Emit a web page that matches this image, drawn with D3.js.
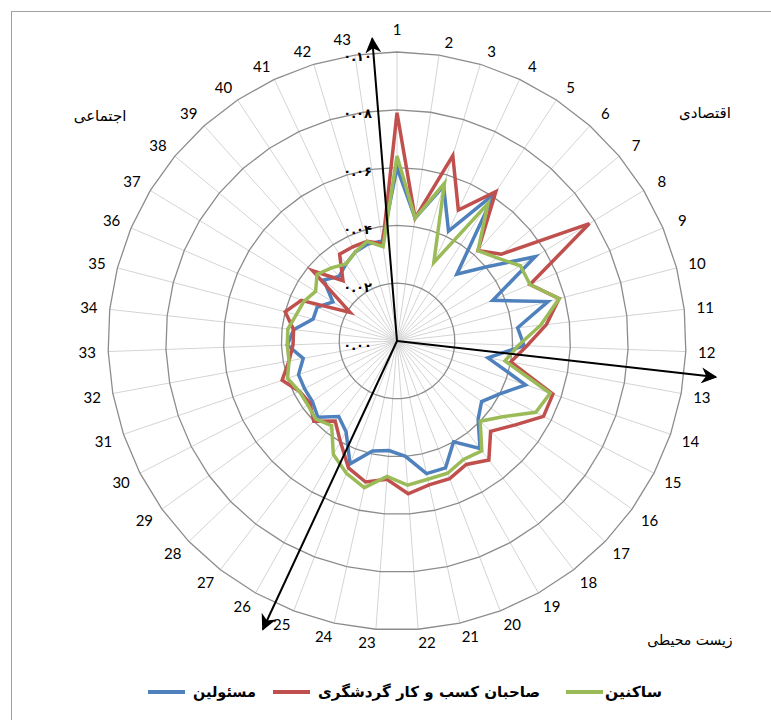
<!DOCTYPE html>
<html><head><meta charset="utf-8">
<script src="https://cdn.jsdelivr.net/npm/d3@7/dist/d3.min.js"></script>
<style>body{margin:0;background:#fff}</style>
</head><body>
<svg id="c" width="771" height="720"></svg>
<script>
const categories = d3.range(1, 44).map(String);
const seriesNames = ["مسئولین", "صاحبان کسب و کار گردشگری", "ساکنین"];
const seriesColors = ["#4F81BD", "#C0504D", "#9BBB59"];
const blue  = [0.060,0.043,0.056,0.042,0.061,0.031,0.040,0.056,0.036,0.054,0.042,0.044,0.032,0.047,0.040,0.036,0.039,0.047,0.040,0.047,0.047,0.040,0.038,0.039,0.0455,0.036,0.033,0.038,0.036,0.036,0.036,0.033,0.038,0.036,0.030,0.030,0.026,0.033,0.030,0.032,0.034,0.035,0.035];
const red   = [0.079,0.043,0.067,0.050,0.062,0.042,0.047,0.078,0.050,0.058,0.052,0.045,0.040,0.057,0.057,0.050,0.045,0.052,0.049,0.051,0.051,0.053,0.048,0.050,0.047,0.040,0.035,0.040,0.037,0.038,0.042,0.038,0.036,0.036,0.040,0.036,0.019,0.038,0.028,0.036,0.036,0.036,0.034];
const green = [0.064,0.043,0.057,0.030,0.057,0.042,0.045,0.050,0.050,0.058,0.050,0.042,0.038,0.056,0.054,0.045,0.040,0.048,0.047,0.049,0.049,0.050,0.047,0.052,0.049,0.045,0.037,0.039,0.038,0.038,0.040,0.038,0.038,0.038,0.036,0.035,0.033,0.036,0.034,0.032,0.034,0.036,0.033];
const radialTicks = [0, 0.02, 0.04, 0.06, 0.08, 0.10];
const radialTickLabels = ["۰.۰۰", "۰.۰۲", "۰.۰۴", "۰.۰۶", "۰.۰۸", "۰.۱۰"];
const sectorNames = ["اقتصادی", "زیست محیطی", "اجتماعی"];
// arrows: [axis position (0-based, fractional), value reached]
const arrowPos = [-0.56, 11.52, 24.48];
const arrowLen = [0.105, 0.111, 0.110];

const W = 771, H = 720, cx = 397, cy = 341, R = 289;
const svg = d3.select("#c");
const N = categories.length;
const r = d3.scaleLinear().domain([0, 0.10]).range([0, R]);
const ang = d3.scaleLinear().domain([0, N]).range([0, 2 * Math.PI]);
const pt = (i, v) => [cx + r(v) * Math.sin(ang(i)), cy - r(v) * Math.cos(ang(i))];

svg.append("rect").attr("x", 0).attr("y", 0).attr("width", W).attr("height", H).attr("fill", "#fff");
svg.append("rect").attr("x", 11.5).attr("y", 11.5).attr("width", 800).attr("height", 760)
  .attr("fill", "none").attr("stroke", "#a0a0a0").attr("stroke-width", 1);

const g = svg.append("g");
// spokes
g.selectAll("line.spoke").data(categories).join("line").attr("class", "spoke")
  .attr("x1", cx).attr("y1", cy)
  .attr("x2", (d, i) => pt(i, 0.10)[0]).attr("y2", (d, i) => pt(i, 0.10)[1])
  .attr("stroke", "#d4d4d4").attr("stroke-width", 1);
// rings
radialTicks.slice(1).forEach(t => {
  g.append("polygon")
    .attr("points", categories.map((d, i) => pt(i, t).join(",")).join(" "))
    .attr("fill", "none").attr("stroke", "#8c8c8c").attr("stroke-width", 1.3);
});
// category labels (Excel-like placement)
function labelPos(i) {
  const a = ang(i), s = Math.sin(a), c = Math.cos(a);
  const rl = 302 + 8 * s * s;
  let x = cx + rl * s + Math.sign(Math.round(s * 1e6)) * 8 * c * c;
  let y = cy - rl * c;
  if (i === 0) y -= 10;
  if (i === N - 1) { x -= 3; y -= 3; }
  return [x, y];
}
g.selectAll("text.cat").data(categories).join("text").attr("class", "cat")
  .attr("x", (d, i) => labelPos(i)[0]).attr("y", (d, i) => labelPos(i)[1])
  .attr("text-anchor", "middle").attr("dominant-baseline", "central")
  .attr("font-family", "Lato, 'Open Sans', sans-serif").attr("font-size", 15).attr("fill", "#000")
  .text(d => d);

// series
const line = d3.line().curve(d3.curveLinearClosed);
[blue, red, green].forEach((s, k) => {
  g.append("path").attr("d", line(s.map((v, i) => pt(i, v))))
    .attr("fill", "none").attr("stroke", seriesColors[k]).attr("stroke-width", 3.5)
    .attr("stroke-linejoin", "miter");
});

// radial tick labels
g.selectAll("text.rt").data(radialTicks).join("text").attr("class", "rt")
  .attr("x", cx - 25).attr("y", d => cy - r(d) + 4)
  .attr("text-anchor", "end").attr("dominant-baseline", "central")
  .attr("direction", "ltr").attr("unicode-bidi", "bidi-override")
  .attr("font-family", "'DejaVu Sans', sans-serif").attr("font-size", 13).attr("font-weight", "bold").attr("fill", "#000")
  .text((d, i) => radialTickLabels[i]);

// arrows
const defs = svg.append("defs");
defs.append("marker").attr("id", "ah").attr("viewBox", "0 0 10 10").attr("refX", 9).attr("refY", 5)
  .attr("markerWidth", 16).attr("markerHeight", 16).attr("orient", "auto")
  .attr("markerUnits", "userSpaceOnUse")
  .append("path").attr("d", "M0,0 L10,5 L0,10 L3,5 Z").attr("fill", "#000");
arrowPos.forEach((p, k) => {
  const e = pt(p, arrowLen[k]);
  g.append("line").attr("x1", cx).attr("y1", cy).attr("x2", e[0]).attr("y2", e[1])
    .attr("stroke", "#000").attr("stroke-width", 2).attr("marker-end", "url(#ah)");
});

// sector labels
const sectorXY = [[705, 113], [690, 640], [100, 116]];
const sectorSize = [15, 14, 15];
sectorNames.forEach((s, k) => {
  svg.append("text").attr("x", sectorXY[k][0]).attr("y", sectorXY[k][1])
    .attr("text-anchor", "middle").attr("dominant-baseline", "central")
    .attr("font-family", "'DejaVu Sans', sans-serif").attr("font-size", sectorSize[k]).attr("fill", "#000")
    .text(s);
});

// legend
const legendItems = [
  {name: seriesNames[0], color: seriesColors[0], lx: 148, tx: 193, tw: 63},
  {name: seriesNames[1], color: seriesColors[1], lx: 273, tx: 318, tw: 222},
  {name: seriesNames[2], color: seriesColors[2], lx: 566, tx: 605, tw: 57}
];
legendItems.forEach(it => {
  svg.append("line").attr("x1", it.lx).attr("x2", it.lx + 37).attr("y1", 692).attr("y2", 692)
    .attr("stroke", it.color).attr("stroke-width", 4);
  svg.append("text").attr("x", it.tx).attr("y", 692).attr("dominant-baseline", "central")
    .attr("font-family", "'DejaVu Sans', sans-serif").attr("font-size", 15).attr("font-weight", "bold")
    .attr("textLength", it.tw).attr("lengthAdjust", "spacingAndGlyphs")
    .attr("text-anchor", "start").attr("direction", "ltr")
    .text(it.name);
});
</script>
</body></html>
